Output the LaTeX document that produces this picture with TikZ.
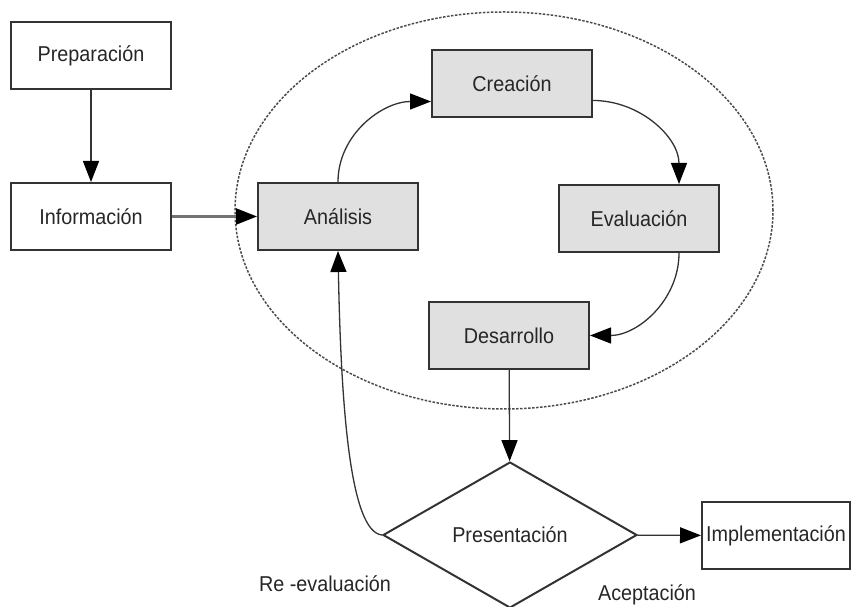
\documentclass[tikz,border=0pt]{standalone}
\usepackage{fontspec}
\setmainfont{Liberation Sans}[FakeStretch=0.92]
\usepackage{tikz}
\usetikzlibrary{arrows.meta,shapes.geometric}
\usepackage{xcolor}

\definecolor{boxgrey}{HTML}{E0E0E0}
\definecolor{edgegrey}{HTML}{333333}

\begin{document}
\begin{tikzpicture}[x=1pt, y=1pt, every node/.style={font=\fontsize{21.5}{24}\selectfont, text=black!85},
    stage/.style={draw=edgegrey, line width=2pt, minimum width=160pt, minimum height=67pt, inner sep=2pt},
    core/.style={stage, fill=boxgrey},
    decision/.style={diamond, draw=edgegrey, line width=2pt, minimum width=254pt, minimum height=146pt, inner sep=0pt},
    flow/.style={line width=1.3pt, draw=edgegrey, -{Triangle[length=21pt,width=16pt,black]}}]
        \useasboundingbox (0,0) rectangle (852,607);
        % dotted loop round the design cycle
        \draw[gray!60!black, line width=1.5pt, dash pattern=on 2.5pt off 1.5pt]
          (504,396.5) ellipse [x radius=269pt, y radius=198.5pt];
        \node[stage] (prep) at (91,551) {Preparación};
        \node[stage] (info) at (91,390.5) {Información};
        \node[core] (ana) at (338,390.5) {Análisis};
        \node[core] (crea) at (512,523.5) {Creación};
        \node[core] (eval) at (639,388.5) {Evaluación};
        \node[core] (desa) at (509,271.5) {Desarrollo};
        \node[decision] (pres) at (510,72) {Presentación};
        \node[stage, minimum width=148pt] (impl) at (776,71.5) {Implementación};
        \draw[flow] (prep) -- (info);
        \draw[flow, draw=black!55, line width=2.2pt] (info) -- (ana);
        \draw[flow] (ana.north) to[out=90,in=180] ([yshift=-18pt]crea.west);
        \draw[flow] ([yshift=-17pt]crea.east) to[out=0,in=90] ([xshift=40pt]eval.north);
        \draw[flow] ([xshift=40pt]eval.south) to[out=-90,in=0] (desa.east);
        \draw[flow] (desa) -- (pres);
        \draw[flow] (pres) -- (impl);
        \draw[flow] (pres.west) .. controls +(-32,3) and +(3,-156) .. (ana.south);
        \node[anchor=base] (reeval) at (325,15) {Re -evaluación};
        \node[anchor=base] (acept) at (647,6) {Aceptación};
      \end{tikzpicture}
\end{document}
